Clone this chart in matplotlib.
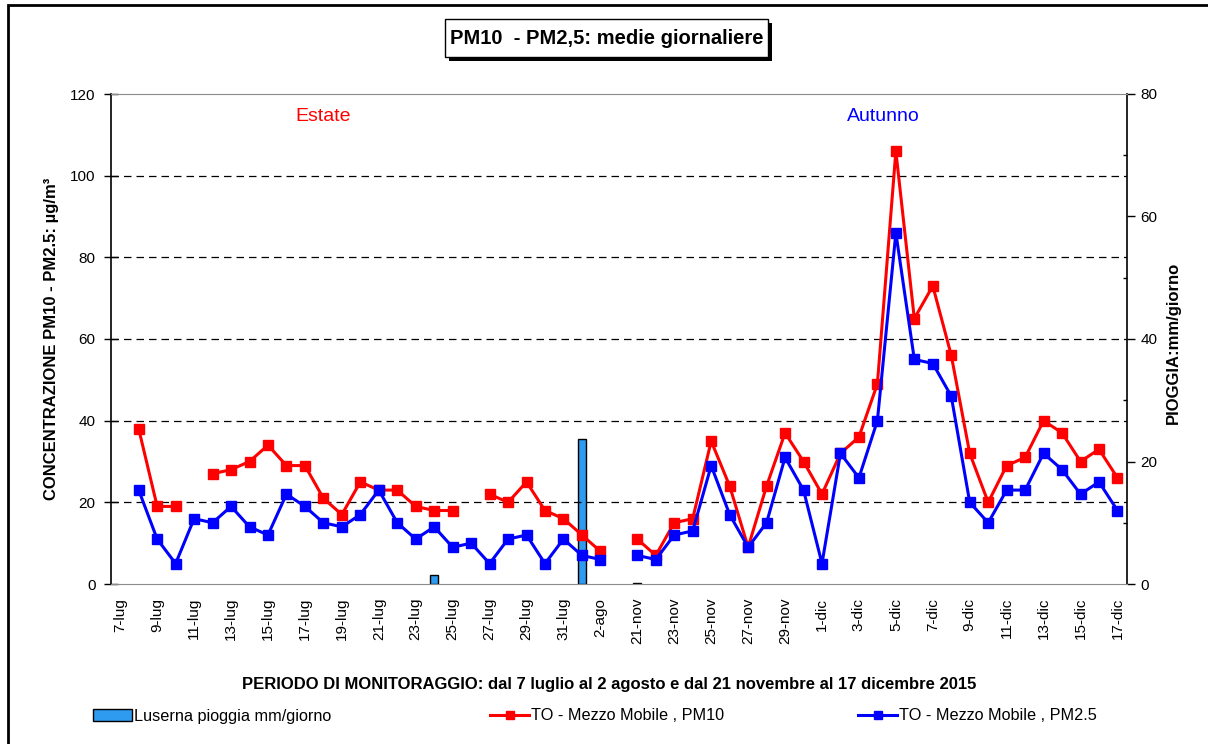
import numpy as np
import matplotlib
matplotlib.use("Agg")
import matplotlib.pyplot as plt
from matplotlib.patches import Rectangle, Patch
from matplotlib.lines import Line2D

plt.rcParams['font.family'] = ['Liberation Sans', 'DejaVu Sans']

# Category axis: summer campaign, one empty slot, autumn campaign
days = [
    "7-lug", "8-lug", "9-lug", "10-lug", "11-lug", "12-lug", "13-lug", "14-lug",
    "15-lug", "16-lug", "17-lug", "18-lug", "19-lug", "20-lug", "21-lug", "22-lug",
    "23-lug", "24-lug", "25-lug", "26-lug", "27-lug", "28-lug", "29-lug", "30-lug",
    "31-lug", "1-ago", "2-ago", "",
    "21-nov", "22-nov", "23-nov", "24-nov", "25-nov", "26-nov", "27-nov", "28-nov",
    "29-nov", "30-nov", "1-dic", "2-dic", "3-dic", "4-dic", "5-dic", "6-dic",
    "7-dic", "8-dic", "9-dic", "10-dic", "11-dic", "12-dic", "13-dic", "14-dic",
    "15-dic", "16-dic", "17-dic",
]

nan = np.nan
pm10 = [
    nan, 38, 19, 19, nan, 27, 28, 30, 34, 29, 29, 21, 17, 25, 23, 23,
    19, 18, 18, nan, 22, 20, 25, 18, 16, 12, 8, nan,
    11, 7, 15, 16, 35, 24, 9, 24, 37, 30, 22, 32, 36, 49, 106, 65,
    73, 56, 32, 20, 29, 31, 40, 37, 30, 33, 26,
]
pm25 = [
    nan, 23, 11, 5, 16, 15, 19, 14, 12, 22, 19, 15, 14, 17, 23, 15,
    11, 14, 9, 10, 5, 11, 12, 5, 11, 7, 6, nan,
    7, 6, 12, 13, 29, 17, 9, 15, 31, 23, 5, 32, 26, 40, 86, 55,
    54, 46, 20, 15, 23, 23, 32, 28, 22, 25, 18,
]

# Rainfall at Luserna (mm/day), only the days with rain
rain_days = ["24-lug", "1-ago", "21-nov"]
rain_mm = [1.4, 23.6, 0.2]

RAIN_COLOR = '#2E9AF0'
PM10_COLOR = '#FF0000'
PM25_COLOR = '#0000FF'

W, H = 1208, 744
def fx(px):
    return px / W
def fy(py):
    return 1 - py / H

fig = plt.figure(figsize=(W / 100, H / 100), dpi=100)

# outer chart frame
fig.patches.append(Rectangle((fx(8), -0.2), 1.3, fy(5) + 0.2, transform=fig.transFigure,
                             fc='none', ec='black', lw=2, zorder=0))

left, right, top, bottom = 111, 1126.7, 94, 584
ax = fig.add_axes([fx(left), fy(bottom), (right - left) / W, (bottom - top) / H])
ax2 = ax.twinx()

x = np.arange(len(days))
rain_x = [days.index(d) for d in rain_days]
ax2.bar(rain_x, rain_mm, width=0.42, color=RAIN_COLOR, edgecolor='black', linewidth=1)
ax2.set_ylim(0, 80)
ax2.set_yticks(range(0, 81, 20))
ax2.set_yticks(range(10, 80, 20), minor=True)
ax2.tick_params(axis='y', which='major', direction='out', length=6, width=1, pad=4, labelsize=11)
ax2.tick_params(axis='y', which='minor', direction='in', length=3, width=1)
for s in ['left', 'top', 'bottom']:
    ax2.spines[s].set_visible(False)
ax2.spines['right'].set_color('black')
ax2.spines['right'].set_linewidth(1.2)

ax.set_zorder(ax2.get_zorder() + 1)
ax.patch.set_visible(False)

ax.set_xlim(-0.5, len(days) - 0.5)
ax.set_ylim(0, 120)
ax.set_yticks(range(0, 121, 20))
for v in range(20, 120, 20):
    ax.axhline(v, color='black', lw=0.9, ls=(0, (6, 4)), zorder=1)

ax.plot(x, pm10, color=PM10_COLOR, lw=2.2, marker='s', ms=7, zorder=3)
ax.plot(x, pm25, color=PM25_COLOR, lw=2.2, marker='s', ms=7, zorder=4)

ax.set_xticks(x[::2])
ax.set_xticklabels(days[::2], rotation=90, fontsize=11)
ax.tick_params(axis='x', length=0, pad=10)
ax.tick_params(axis='y', direction='inout', length=10, width=1, pad=6, labelsize=11)

ax.spines['right'].set_visible(False)
ax.spines['top'].set_color('#8C8C8C')
ax.spines['bottom'].set_color('#8C8C8C')
ax.spines['left'].set_color('black')
ax.spines['left'].set_linewidth(1.2)

ax.text(11, 114.6, "Estate", color=PM10_COLOR, fontsize=14, ha='center', va='center')
ax.text(41.3, 114.6, "Autunno", color=PM25_COLOR, fontsize=14, ha='center', va='center')

# title box with drop shadow
bx0, bx1, by0, by1 = 445, 768, 19, 57
fig.patches.append(Rectangle((fx(bx0 + 4), fy(by1 + 4)), (bx1 - bx0) / W, (by1 - by0) / H,
                             transform=fig.transFigure, fc='black', ec='none', zorder=5))
fig.patches.append(Rectangle((fx(bx0), fy(by1)), (bx1 - bx0) / W, (by1 - by0) / H,
                             transform=fig.transFigure, fc='white', ec='black', lw=1, zorder=6))
fig.text(fx((bx0 + bx1) / 2), fy((by0 + by1) / 2), "PM10  - PM2,5: medie giornaliere",
         ha='center', va='center', fontsize=14.5, fontweight='bold', zorder=7)

fig.text(fx(52), fy(339), "CONCENTRAZIONE PM10 - PM2.5: µg/m³", rotation=90,
         ha='center', va='center', fontsize=12, fontweight='bold')
fig.text(fx(1173), fy(343), "PIOGGIA:mm/giorno", rotation=90,
         ha='center', va='center', fontsize=12, fontweight='bold')
fig.text(fx(609), fy(685),
         "PERIODO DI MONITORAGGIO: dal 7 luglio al 2 agosto e dal 21 novembre al 17 dicembre 2015",
         ha='center', va='center', fontsize=12, fontweight='bold')

legend_kw = dict(loc='center left', frameon=False, borderpad=0, borderaxespad=0,
                 handletextpad=0.15, fontsize=11.7, handlelength=2.4, numpoints=1)
fig.legend(handles=[Patch(fc=RAIN_COLOR, ec='black', lw=1)],
           labels=["Luserna pioggia mm/giorno"], bbox_to_anchor=(fx(93), fy(716)), **legend_kw)
fig.legend(handles=[Line2D([], [], color=PM10_COLOR, lw=2.2, marker='s', ms=6)],
           labels=["TO - Mezzo Mobile , PM10"], bbox_to_anchor=(fx(490), fy(716)), **legend_kw)
fig.legend(handles=[Line2D([], [], color=PM25_COLOR, lw=2.2, marker='s', ms=6)],
           labels=["TO - Mezzo Mobile , PM2.5"], bbox_to_anchor=(fx(858), fy(716)), **legend_kw)

fig.savefig("out.png", dpi=100)
